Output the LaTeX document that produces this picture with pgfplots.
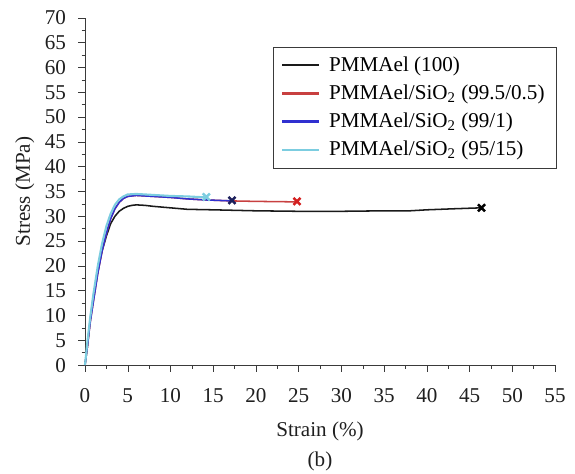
\documentclass[border=0pt]{standalone}
\usepackage{fontspec}
\setmainfont{Liberation Serif}
\usepackage{pgfplots}
\pgfplotsset{compat=1.18}

\definecolor{cBlack}{HTML}{1A1A1A}
\definecolor{cRed}{HTML}{C84040}
\definecolor{cRedX}{HTML}{D42020}
\definecolor{cBlue}{HTML}{3030D0}
\definecolor{cNavy}{HTML}{1C1F5C}
\definecolor{cCyan}{HTML}{7CCDE0}
\definecolor{cAxis}{HTML}{3A3A3A}

\begin{document}
\begin{tikzpicture}
\begin{axis}[
  name=ax,
  scale only axis,
  width=245pt, height=181pt,
  xmin=0, xmax=55, ymin=0, ymax=70,
  xtick={0,5,...,55}, ytick={0,5,...,70},
  minor tick num=1,
  axis x line=bottom, axis y line=left,
  axis line style={cAxis, -},
  tick align=outside,
  major tick length=3.6pt, minor tick length=1.8pt,
  tick style={cAxis},
  xlabel={Strain (\%)}, ylabel={Stress (MPa)},
  tick label style={font=\fontsize{11}{12}\selectfont, text=black!88},
  xticklabel style={yshift=-5.3pt},
  yticklabel style={xshift=-2.8pt},
  label style={font=\fontsize{11}{12}\selectfont, text=black!88},
  xlabel style={at={(axis description cs:0.5,0)}, anchor=center, yshift=-34.4pt},
  ylabel style={at={(axis description cs:-0.128,0.5)}, anchor=center},
  /pgf/number format/assume math mode=true,
  legend cell align=left,
  legend style={at={(0.4,0.917)}, anchor=north west, draw=cAxis,
    font=\fontsize{11}{12}\selectfont, row sep=1.5pt,
    inner xsep=4pt, inner ysep=3pt},
  legend image code/.code={\draw[#1, line width=1.1pt] (0pt,0pt) -- (19pt,0pt); \path (22pt,0pt);},
  clip=false,
]
\addplot[cBlack, line width=0.8pt] coordinates {
  (0,0) (0.3,4) (0.6,9) (1,14) (1.5,19) (2,23) (2.5,26) (3,28.5) (3.5,30)
  (4,31) (4.5,31.6) (5,32) (5.5,32.2) (6,32.3) (7,32.2) (8,32) (10,31.7)
  (12,31.4) (15,31.3) (20,31.1) (25,31) (30,31) (35,31.1) (38,31.1)
  (40,31.3) (43,31.5) (46.3,31.7)};
\addlegendentry{PMMAel (100)}
\addplot[cRed, line width=0.8pt] coordinates {
  (0,0) (0.3,4) (0.6,8.5) (1,13) (1.5,18.5) (2,23) (2.5,26.5) (3,29.5)
  (3.5,31.5) (4,32.8) (4.5,33.6) (5,34) (6,34.2) (7,34.1) (8,34) (10,33.8)
  (12,33.5) (14,33.3) (17,33.1) (20,33) (24.8,32.9)};
\addlegendentry{PMMAel/SiO\textsubscript{2} (99.5/0.5)}
\addplot[cBlue, line width=0.8pt] coordinates {
  (0,0) (0.3,4) (0.6,8.5) (1,13) (1.5,18.5) (2,23) (2.5,26.5) (3,29.5)
  (3.5,31.5) (4,32.8) (4.5,33.6) (5,34) (6,34.2) (7,34.1) (8,34) (10,33.8)
  (12,33.5) (14,33.3) (17.2,33.1)};
\addlegendentry{PMMAel/SiO\textsubscript{2} (99/1)}
\addplot[cCyan, line width=1.1pt] coordinates {
  (0,0) (0.3,5) (0.6,9.5) (1,14.5) (1.5,20) (2,24.5) (2.5,28) (3,30.5)
  (3.5,32.3) (4,33.4) (4.5,34) (5,34.4) (6,34.5) (8,34.3) (10,34.1)
  (12,34) (14.2,33.8)};
\addlegendentry{PMMAel/SiO\textsubscript{2} (95/15)}
% break points
\addplot[only marks, mark=x, mark size=2.6pt, line width=1.3pt, black] coordinates {(46.4,31.7)};
\addplot[only marks, mark=x, mark size=2.6pt, line width=1.3pt, cRedX] coordinates {(24.8,33.0)};
\addplot[only marks, mark=x, mark size=2.6pt, line width=1.3pt, cNavy] coordinates {(17.2,33.2)};
\addplot[only marks, mark=x, mark size=2.6pt, line width=1.3pt, cCyan] coordinates {(14.2,33.9)};
\node[font=\fontsize{11}{12}\selectfont, text=black!88] at (axis description cs:0.5,0) [yshift=-50pt] {(b)};
\end{axis}
\pgfresetboundingbox
\path ([xshift=-44.3pt,yshift=-56.3pt]ax.south west) rectangle ([xshift=10.4pt,yshift=9.3pt]ax.north east);
\end{tikzpicture}
\end{document}
